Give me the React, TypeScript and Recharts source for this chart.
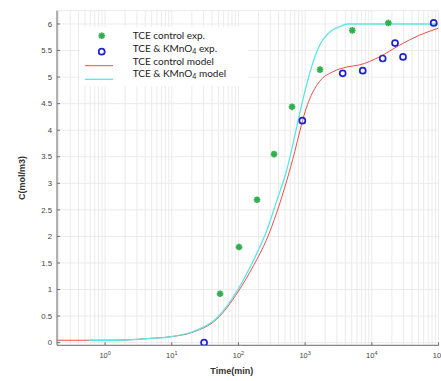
import React from 'react';
import { ComposedChart, Line, Scatter, XAxis, YAxis, CartesianGrid } from 'recharts';

// ---- data (time in min, concentration in mol/m3) ----
const controlExp = [
  { t: 53, c: 0.92 },
  { t: 102, c: 1.8 },
  { t: 190, c: 2.69 },
  { t: 342, c: 3.55 },
  { t: 636, c: 4.44 },
  { t: 1672, c: 5.14 },
  { t: 5100, c: 5.88 },
  { t: 17700, c: 6.02 },
];

const kmnoExp = [
  { t: 30.5, c: 0 },
  { t: 908, c: 4.18 },
  { t: 3660, c: 5.07 },
  { t: 7310, c: 5.12 },
  { t: 14560, c: 5.35 },
  { t: 22300, c: 5.64 },
  { t: 29400, c: 5.38 },
  { t: 84700, c: 6.02 },
];

const controlModel = [
  { t: 0.19, c: 0.045 },
  { t: 1, c: 0.045 },
  { t: 2, c: 0.05 },
  { t: 4.7, c: 0.08 },
  { t: 9.5, c: 0.11 },
  { t: 21, c: 0.2 },
  { t: 47, c: 0.44 },
  { t: 100, c: 0.97 },
  { t: 168, c: 1.45 },
  { t: 266, c: 1.95 },
  { t: 375, c: 2.45 },
  { t: 530, c: 3.05 },
  { t: 700, c: 3.6 },
  { t: 840, c: 4.0 },
  { t: 1000, c: 4.35 },
  { t: 1180, c: 4.6 },
  { t: 1650, c: 4.92 },
  { t: 2600, c: 5.1 },
  { t: 4200, c: 5.19 },
  { t: 6600, c: 5.23 },
  { t: 13000, c: 5.38 },
  { t: 26000, c: 5.6 },
  { t: 52000, c: 5.79 },
  { t: 100000, c: 5.92 },
];

const kmnoModel = [
  { t: 0.575, c: 0.045 },
  { t: 1, c: 0.045 },
  { t: 2, c: 0.05 },
  { t: 4.7, c: 0.08 },
  { t: 9.5, c: 0.11 },
  { t: 21, c: 0.21 },
  { t: 47, c: 0.46 },
  { t: 100, c: 1.02 },
  { t: 168, c: 1.55 },
  { t: 266, c: 2.11 },
  { t: 375, c: 2.67 },
  { t: 530, c: 3.25 },
  { t: 646, c: 3.7 },
  { t: 1000, c: 4.75 },
  { t: 1320, c: 5.29 },
  { t: 1650, c: 5.6 },
  { t: 2350, c: 5.85 },
  { t: 3300, c: 5.95 },
  { t: 4300, c: 6.0 },
  { t: 10000, c: 6.0 },
  { t: 100000, c: 6.0 },
];

const decadeTicks = [1, 10, 100, 1000, 10000, 100000];
const gridTicks = [
  0.2, 0.3, 0.4, 0.5, 0.6, 0.7, 0.8, 0.9,
  1, 2, 3, 4, 5, 6, 7, 8, 9,
  10, 20, 30, 40, 50, 60, 70, 80, 90,
  100, 200, 300, 400, 500, 600, 700, 800, 900,
  1000, 2000, 3000, 4000, 5000, 6000, 7000, 8000, 9000,
  10000, 20000, 30000, 40000, 50000, 60000, 70000, 80000, 90000,
  100000,
];
const yTicks = [0, 0.5, 1, 1.5, 2, 2.5, 3, 3.5, 4, 4.5, 5, 5.5, 6];

const AXIS = '#6e6e6e';
const TICK_FONT = '"Liberation Sans", Arial, sans-serif';
const GREEN = '#2fae4c';
const BLUE = '#1f22d6';
const RED = '#ef4f47';
const CYAN = '#5de6e6';

const isDecade = (v: number) => {
  const e = Math.log10(v);
  return Math.abs(e - Math.round(e)) < 1e-6;
};

const XTick = (p: any) => {
  const v = p.payload.value;
  if (!isDecade(v)) return <g />;
  const e = Math.round(Math.log10(v));
  return (
    <g>
      <line x1={p.x} x2={p.x} y1={p.y} y2={p.y - 3} stroke={AXIS} strokeWidth={1} />
      <text x={p.x} y={p.y + 13} textAnchor="middle" fontSize={7.5} fill="#444" fontFamily={TICK_FONT}>
        10<tspan dy={-3} fontSize={5.5}>{e}</tspan>
      </text>
    </g>
  );
};

const YTick = (p: any) => {
  const v = p.payload.value;
  return (
    <g>
      <line x1={p.x} x2={p.x + 3} y1={p.y} y2={p.y} stroke={AXIS} strokeWidth={1} />
      <text x={p.x - 5} y={p.y} dy="0.35em" textAnchor="end" fontSize={7.8} fill="#444" fontFamily={TICK_FONT}>
        {String(v)}
      </text>
    </g>
  );
};

const TopTick = (p: any) => (
  <line x1={p.x} x2={p.x} y1={p.y} y2={p.y + 3} stroke={AXIS} strokeWidth={1} />
);

const RightTick = (p: any) => (
  <line x1={p.x - 3} x2={p.x} y1={p.y} y2={p.y} stroke={AXIS} strokeWidth={1} />
);

const StarMark = (p: any) => {
  const { cx, cy } = p;
  const r = 3.3;
  const d = 2.4;
  return (
    <g stroke={GREEN} strokeWidth={1.8}>
      <line x1={cx - r} y1={cy} x2={cx + r} y2={cy} />
      <line x1={cx} y1={cy - r} x2={cx} y2={cy + r} />
      <line x1={cx - d} y1={cy - d} x2={cx + d} y2={cy + d} />
      <line x1={cx - d} y1={cy + d} x2={cx + d} y2={cy - d} />
    </g>
  );
};

const CircleMark = (p: any) => (
  <circle cx={p.cx} cy={p.cy} r={3} fill="none" stroke={BLUE} strokeWidth={1.7} />
);

const LEG_FONT = 'Lato, "Open Sans", sans-serif';

export default function App() {
  return (
    <div style={{ position: 'fixed', left: 0, top: 0, width: 441, height: 381, overflow: 'hidden', background: '#fff' }}>
      <ComposedChart width={460} height={381} margin={{ top: 10.7, right: 21.5, bottom: 0, left: 0 }}>
        <CartesianGrid stroke="#ebebeb" strokeWidth={1} />
        <XAxis
          dataKey="t"
          type="number"
          scale="log"
          domain={[0.19, 100000]}
          allowDataOverflow
          ticks={gridTicks}
          interval={0}
          tickLine={false}
          tickSize={0}
          tickMargin={0}
          tick={XTick}
          height={35.7}
          axisLine={{ stroke: AXIS }}
          label={{
            value: 'Time(min)',
            position: 'insideBottom',
            offset: 7.5,
            dx: -16,
            fill: '#333',
            fontSize: 9,
            fontWeight: 'bold',
            fontFamily: TICK_FONT,
          }}
        />
        <XAxis
          xAxisId="top"
          orientation="top"
          dataKey="t"
          type="number"
          scale="log"
          domain={[0.19, 100000]}
          allowDataOverflow
          ticks={decadeTicks}
          interval={0}
          height={0}
          tickLine={false}
          tickSize={0}
          tickMargin={0}
          tick={TopTick}
          axisLine={{ stroke: AXIS }}
        />
        <YAxis
          dataKey="c"
          type="number"
          domain={[-0.05, 6.25]}
          allowDataOverflow
          ticks={yTicks}
          interval={0}
          width={57}
          tickLine={false}
          tickSize={0}
          tickMargin={0}
          tick={YTick}
          axisLine={{ stroke: AXIS }}
          label={{
            value: 'C(mol/m3)',
            angle: -90,
            position: 'insideLeft',
            offset: 22,
            textAnchor: 'middle',
            fill: '#333',
            fontSize: 9,
            fontWeight: 'bold',
            fontFamily: TICK_FONT,
          }}
        />
        <YAxis
          yAxisId="right"
          orientation="right"
          dataKey="c"
          type="number"
          domain={[-0.05, 6.25]}
          allowDataOverflow
          ticks={yTicks}
          interval={0}
          width={0}
          tickLine={false}
          tickSize={0}
          tickMargin={0}
          tick={RightTick}
          axisLine={{ stroke: AXIS }}
        />
        <Line data={controlModel} dataKey="c" type="monotone" stroke={RED} strokeWidth={1} dot={false} isAnimationActive={false} />
        <Line data={kmnoModel} dataKey="c" type="monotone" stroke={CYAN} strokeWidth={1.3} dot={false} isAnimationActive={false} />
        <Scatter data={controlExp} dataKey="c" shape={StarMark} isAnimationActive={false} />
        <Scatter data={kmnoExp} dataKey="c" shape={CircleMark} isAnimationActive={false} />
      </ComposedChart>
      <svg width={441} height={381} style={{ position: 'absolute', left: 0, top: 0, pointerEvents: 'none' }}>
        <rect x={80} y={27} width={168} height={59} fill="#fff" />
        <StarMark cx={101.7} cy={35.7} />
        <CircleMark cx={101.7} cy={51.7} />
        <line x1={85} x2={113} y1={65.7} y2={65.7} stroke={RED} strokeWidth={1} />
        <line x1={85} x2={113} y1={79.3} y2={79.3} stroke={CYAN} strokeWidth={1.3} />
        <g fontFamily={LEG_FONT} fontSize={10} fill="#222">
          <text x={132.7} y={35.7} dy="0.35em">TCE control exp.</text>
          <text x={132.7} y={48} dy="0.35em">
            TCE &amp; KMnO<tspan fontSize={7} dy={2}>4</tspan><tspan dy={-2}> exp.</tspan>
          </text>
          <text x={132.7} y={61} dy="0.35em">TCE control model</text>
          <text x={132.7} y={73} dy="0.35em">
            TCE &amp; KMnO<tspan fontSize={7} dy={2}>4</tspan><tspan dy={-2}> model</tspan>
          </text>
        </g>
      </svg>
    </div>
  );
}
